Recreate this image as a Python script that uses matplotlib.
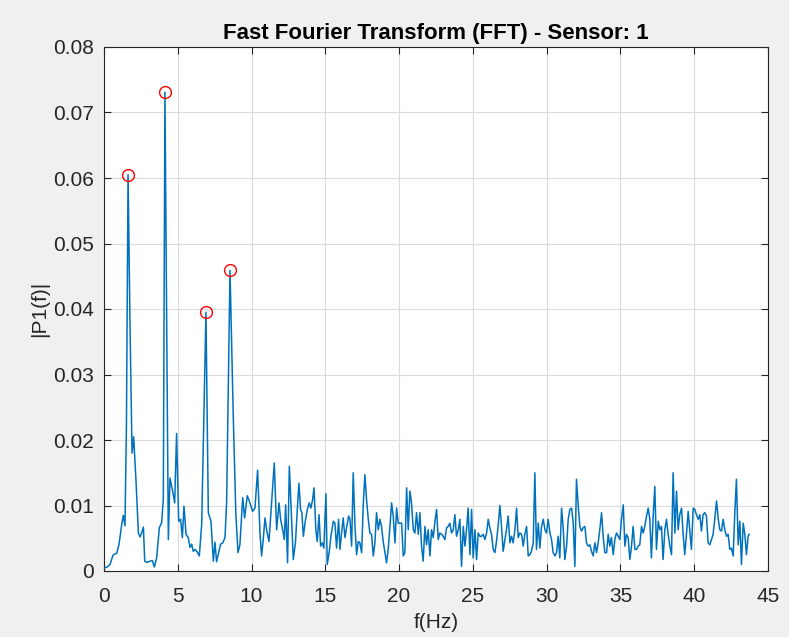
import matplotlib
matplotlib.use("Agg")
import matplotlib.pyplot as plt

# Single-sided amplitude spectrum |P1(f)| (Hz, amplitude)
freq = [0.00, 0.20, 0.41, 0.55, 0.63, 0.75, 0.86, 1.02, 1.20, 1.31, 1.42, 1.52, 1.63, 1.76, 1.90,
        2.01, 2.17, 2.33, 2.44, 2.55, 2.67, 2.76, 2.89, 3.00, 3.12, 3.28, 3.41, 3.57, 3.75, 3.91,
        4.02, 4.13, 4.36, 4.47, 4.65, 4.79, 4.92, 5.06, 5.19, 5.31, 5.42, 5.56, 5.71, 5.83, 5.94,
        6.05, 6.17, 6.32, 6.46, 6.62, 6.91, 7.07, 7.25, 7.41, 7.52, 7.63, 7.79, 7.90, 8.05, 8.20,
        8.31, 8.54, 8.76, 8.94, 9.08, 9.21, 9.40, 9.53, 9.71, 9.89, 10.07, 10.23, 10.41, 10.57,
        10.68, 10.79, 10.91, 11.02, 11.18, 11.36, 11.54, 11.70, 11.86, 11.97, 12.11, 12.22, 12.31,
        12.44, 12.56, 12.71, 12.83, 12.98, 13.10, 13.21, 13.32, 13.41, 13.51, 13.64, 13.78, 13.91,
        14.02, 14.14, 14.23, 14.36, 14.45, 14.57, 14.68, 14.79, 14.90, 15.04, 15.13, 15.27, 15.38,
        15.54, 15.65, 15.76, 15.90, 15.99, 16.10, 16.21, 16.33, 16.44, 16.58, 16.67, 16.78, 16.89,
        17.01, 17.12, 17.23, 17.34, 17.46, 17.57, 17.68, 17.80, 17.91, 18.02, 18.13, 18.25, 18.36,
        18.47, 18.59, 18.70, 18.81, 18.92, 19.04, 19.15, 19.26, 19.38, 19.49, 19.60, 19.72, 19.83,
        19.94, 20.05, 20.17, 20.28, 20.39, 20.51, 20.62, 20.73, 20.84, 20.96, 21.07, 21.18, 21.30,
        21.41, 21.52, 21.63, 21.75, 21.86, 21.97, 22.09, 22.20, 22.31, 22.43, 22.54, 22.65, 22.76,
        22.88, 22.99, 23.10, 23.22, 23.33, 23.44, 23.55, 23.67, 23.78, 23.89, 24.01, 24.12, 24.23,
        24.35, 24.46, 24.57, 24.68, 24.80, 24.91, 25.02, 25.14, 25.25, 25.36, 25.47, 25.59, 25.70,
        25.81, 25.93, 26.04, 26.15, 26.26, 26.38, 26.49, 26.60, 26.72, 26.83, 26.94, 27.05, 27.17,
        27.28, 27.39, 27.51, 27.62, 27.73, 27.85, 27.96, 28.07, 28.18, 28.30, 28.41, 28.52, 28.64,
        28.75, 28.86, 28.97, 29.09, 29.20, 29.31, 29.43, 29.54, 29.65, 29.77, 29.88, 29.99, 30.10,
        30.22, 30.33, 30.44, 30.56, 30.67, 30.78, 30.89, 31.01, 31.12, 31.23, 31.35, 31.46, 31.57,
        31.69, 31.80, 31.91, 32.02, 32.14, 32.25, 32.36, 32.47, 32.59, 32.70, 32.81, 32.93, 33.04,
        33.15, 33.27, 33.38, 33.49, 33.60, 33.72, 33.83, 33.94, 34.06, 34.17, 34.28, 34.39, 34.51,
        34.62, 34.73, 34.85, 34.96, 35.07, 35.19, 35.30, 35.41, 35.52, 35.64, 35.75, 35.86, 35.98,
        36.09, 36.20, 36.31, 36.43, 36.54, 36.65, 36.77, 36.88, 36.99, 37.10, 37.22, 37.33, 37.44,
        37.56, 37.67, 37.78, 37.89, 38.01, 38.12, 38.23, 38.35, 38.46, 38.57, 38.69, 38.80, 38.91,
        39.02, 39.14, 39.25, 39.36, 39.48, 39.59, 39.70, 39.81, 39.93, 40.04, 40.15, 40.27, 40.38,
        40.49, 40.60, 40.72, 40.83, 40.94, 41.06, 41.17, 41.28, 41.40, 41.51, 41.62, 41.73, 41.85,
        41.96, 42.07, 42.19, 42.30, 42.41, 42.52, 42.64, 42.75, 42.86, 42.98, 43.09, 43.20, 43.32,
        43.43, 43.54, 43.65, 43.72]

amplitude = [0.0004, 0.0006, 0.0010, 0.0020, 0.0025, 0.0026, 0.0027, 0.0041, 0.0071, 0.0085, 0.0069,
             0.0220, 0.0605, 0.0380, 0.0180, 0.0205, 0.0137, 0.0058, 0.0052, 0.0058, 0.0067, 0.0015,
             0.0013, 0.0014, 0.0015, 0.0016, 0.0006, 0.0020, 0.0066, 0.0074, 0.0110, 0.0731, 0.0048,
             0.0142, 0.0122, 0.0104, 0.0210, 0.0076, 0.0079, 0.0051, 0.0099, 0.0056, 0.0051, 0.0036,
             0.0041, 0.0030, 0.0033, 0.0029, 0.0023, 0.0071, 0.0395, 0.0089, 0.0076, 0.0015, 0.0044,
             0.0014, 0.0030, 0.0041, 0.0043, 0.0051, 0.0105, 0.0459, 0.0236, 0.0084, 0.0028, 0.0040,
             0.0112, 0.0081, 0.0115, 0.0104, 0.0091, 0.0096, 0.0154, 0.0058, 0.0023, 0.0048, 0.0081,
             0.0063, 0.0045, 0.0104, 0.0165, 0.0063, 0.0104, 0.0079, 0.0063, 0.0048, 0.0101, 0.00125,
             0.0160, 0.0079, 0.00175, 0.0045, 0.0094, 0.0134, 0.0094, 0.0089, 0.0053, 0.0076, 0.0094,
             0.0104, 0.0096, 0.0109, 0.0127, 0.0063, 0.0045, 0.0086, 0.0038, 0.0043, 0.0035, 0.0118,
             0.0010, 0.0030, 0.0053, 0.0076, 0.0073, 0.0035, 0.0079, 0.0033, 0.0058, 0.0081, 0.0051,
             0.0066, 0.0084, 0.0079, 0.0038, 0.0150, 0.0068, 0.0025, 0.0045, 0.0043, 0.0028, 0.0101,
             0.0147, 0.0107, 0.0079, 0.0058, 0.0056, 0.0023, 0.0043, 0.0089, 0.0063, 0.0079, 0.0068,
             0.0045, 0.0028, 0.00125, 0.0033, 0.0068, 0.0104, 0.0084, 0.0043, 0.0096, 0.0073, 0.0073,
             0.0073, 0.0023, 0.0028, 0.0127, 0.0063, 0.0122, 0.0104, 0.0063, 0.0058, 0.0089, 0.0056,
             0.0089, 0.0038, 0.0015, 0.0068, 0.0040, 0.0063, 0.0023, 0.0063, 0.0051, 0.0076, 0.0094,
             0.0048, 0.0058, 0.0056, 0.0053, 0.0048, 0.0066, 0.0068, 0.0073, 0.0058, 0.0063, 0.0086,
             0.0053, 0.0063, 0.0079, 0.0007, 0.0068, 0.0038, 0.0063, 0.0096, 0.0025, 0.0094, 0.0020,
             0.0063, 0.00175, 0.0058, 0.0053, 0.0053, 0.0056, 0.0048, 0.0058, 0.0079, 0.0066, 0.0056,
             0.0033, 0.0028, 0.0045, 0.0071, 0.0100, 0.0068, 0.0030, 0.0048, 0.0063, 0.0084, 0.0043,
             0.0053, 0.0043, 0.0063, 0.0096, 0.0051, 0.0058, 0.0056, 0.0038, 0.0056, 0.0068, 0.0023,
             0.0025, 0.0030, 0.0043, 0.0150, 0.0033, 0.0073, 0.0035, 0.0068, 0.0079, 0.0063, 0.0058,
             0.0079, 0.0058, 0.0048, 0.0028, 0.0023, 0.0028, 0.0053, 0.0020, 0.0096, 0.0066, 0.00175,
             0.0038, 0.0079, 0.0094, 0.0096, 0.0073, 0.0007, 0.0140, 0.0099, 0.0068, 0.0061, 0.0066,
             0.0068, 0.0043, 0.0038, 0.0040, 0.0030, 0.0023, 0.0043, 0.0028, 0.0043, 0.0063, 0.0089,
             0.0053, 0.0028, 0.0028, 0.0056, 0.0038, 0.0051, 0.0025, 0.0048, 0.0058, 0.0053, 0.0048,
             0.0079, 0.0101, 0.0038, 0.0056, 0.0051, 0.00175, 0.0038, 0.0068, 0.0033, 0.0033, 0.0038,
             0.0040, 0.0068, 0.0058, 0.0068, 0.0084, 0.0096, 0.0079, 0.0020, 0.0084, 0.0129, 0.0033,
             0.0076, 0.0063, 0.0068, 0.00175, 0.0063, 0.0079, 0.0056, 0.0038, 0.0025, 0.0150, 0.0058,
             0.0122, 0.0063, 0.0086, 0.0096, 0.0056, 0.0025, 0.0058, 0.0091, 0.0061, 0.0033, 0.0096,
             0.0094, 0.0086, 0.0079, 0.0086, 0.0061, 0.0086, 0.0089, 0.0084, 0.0043, 0.0040, 0.0048,
             0.0056, 0.0081, 0.0107, 0.0081, 0.0063, 0.0061, 0.0079, 0.0063, 0.0053, 0.0056, 0.0033,
             0.0035, 0.0023, 0.0089, 0.0140, 0.0040, 0.0076, 0.0010, 0.0073, 0.0056, 0.0025, 0.0053,
             0.0056]

# Detected peaks (red circles)
peak_freq = [1.63, 4.13, 6.91, 8.54]
peak_amp = [0.0605, 0.0731, 0.0395, 0.0459]

title_text = "Fast Fourier Transform (FFT) - Sensor: 1"
x_label = "f(Hz)"
y_label = "|P1(f)|"
x_ticks = [0, 5, 10, 15, 20, 25, 30, 35, 40, 45]
y_ticks = [0, 0.01, 0.02, 0.03, 0.04, 0.05, 0.06, 0.07, 0.08]
y_tick_labels = ["0", "0.01", "0.02", "0.03", "0.04", "0.05", "0.06", "0.07", "0.08"]

plt.rcParams['font.family'] = ['Liberation Sans', 'DejaVu Sans']
dark = '#262626'

fig = plt.figure(figsize=(7.89, 6.37), dpi=100, facecolor='#f0f0f0')
ax = fig.add_axes([104 / 789, 1 - 571 / 637, 664 / 789, 524 / 637])
ax.set_facecolor('white')

ax.plot(freq, amplitude, color='#0072BD', lw=1.1, zorder=3)
ax.plot(peak_freq, peak_amp, linestyle='none', marker='o', markersize=8.5,
        markerfacecolor='none', markeredgecolor='#FF0000', markeredgewidth=1.0, zorder=4)

ax.set_xlim(0, 45)
ax.set_ylim(0, 0.08)
ax.set_xticks(x_ticks)
ax.set_yticks(y_ticks)
ax.set_yticklabels(y_tick_labels)

ax.grid(True, color='#dbdbdb', lw=0.8, zorder=0)
ax.set_axisbelow(True)
for s in ax.spines.values():
    s.set_color(dark)
    s.set_linewidth(0.8)
ax.tick_params(direction='in', length=5, width=0.8, colors=dark, labelsize=15,
               top=True, right=True)
ax.tick_params(axis='x', pad=11.5)
ax.tick_params(axis='y', pad=7.5)

ax.set_title(title_text, fontsize=16, fontweight='bold', color='black', pad=6)
ax.set_xlabel(x_label, fontsize=15, color=dark, labelpad=5)
ax.set_ylabel(y_label, fontsize=15, color=dark, labelpad=2.5)

fig.savefig('out.png', dpi=100, facecolor=fig.get_facecolor())
